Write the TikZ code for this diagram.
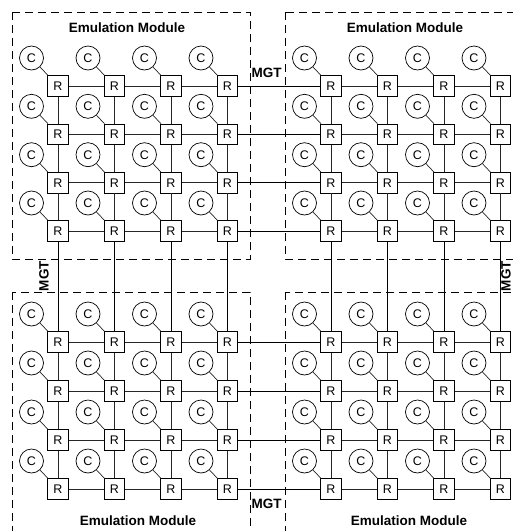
\documentclass[tikz,border=0pt]{standalone}
\usepackage{fontspec}
\setmainfont{Liberation Sans}
\usetikzlibrary{positioning}

\begin{document}
\begin{tikzpicture}[x=1pt,y=-1pt,
    router/.style={draw,rectangle,minimum size=20.5pt,inner sep=0pt,line width=0.7pt,font=\fontsize{12.5}{12.5}\selectfont},
    core/.style={draw,circle,minimum size=24pt,inner sep=0pt,line width=0.7pt,font=\fontsize{12.5}{12.5}\selectfont},
    module/.style={draw,dash pattern=on 8pt off 5pt,line width=0.8pt},
    link/.style={line width=0.7pt,black!85},
    mgt/.style={line width=0.9pt},
    lbl/.style={font=\bfseries\fontsize{13.5}{13.5}\selectfont}]
  \useasboundingbox (0,0) rectangle (513,531);
  \clip (0,0) rectangle (513,531);
  \draw[module] (12,12) rectangle (250,259);
  \draw[module] (285,12) rectangle (530,259);
  \draw[module] (12,292) rectangle (250,550);
  \draw[module] (285,292) rectangle (530,550);
  \foreach \i/\y in {1/86,2/134.3,3/182.7,4/231,5/342,6/391,7/440,8/489}
    \foreach \j/\x in {1/58,2/114.5,3/171,4/227.5,5/331,6/387.5,7/444,8/500.5} {
      \node[router] (r\i\j) at (\x,\y) {R};
      \node[core] (c\i\j) at (\x-26.5,\y-28) {C};
      \draw[link] (c\i\j) -- (r\i\j);
    }
  \foreach \i in {1,...,8}
    \foreach \a/\b in {1/2,2/3,3/4,5/6,6/7,7/8} {
      \draw[link] (r\i\a) -- (r\i\b);
      \draw[link] (r\a\i) -- (r\b\i);
    }
  \foreach \i in {1,...,8} {
    \draw[mgt] (r\i4) -- (r\i5);
    \draw[mgt] (r4\i) -- (r5\i);
  }
  \node[lbl] (em1) at (127,28) {Emulation Module};
  \node[lbl] (em2) at (405,28) {Emulation Module};
  \node[lbl] (em3) at (138,521) {Emulation Module};
  \node[lbl] (em4) at (409,521) {Emulation Module};
  \node[lbl] (mgt1) at (266.5,73) {MGT};
  \node[lbl] (mgt2) at (266.5,504) {MGT};
  \node[lbl,rotate=90] (mgt3) at (44,276) {MGT};
  \node[lbl,rotate=90,inner sep=0pt] (mgt4) at (506,276) {MGT};
\end{tikzpicture}
\end{document}
